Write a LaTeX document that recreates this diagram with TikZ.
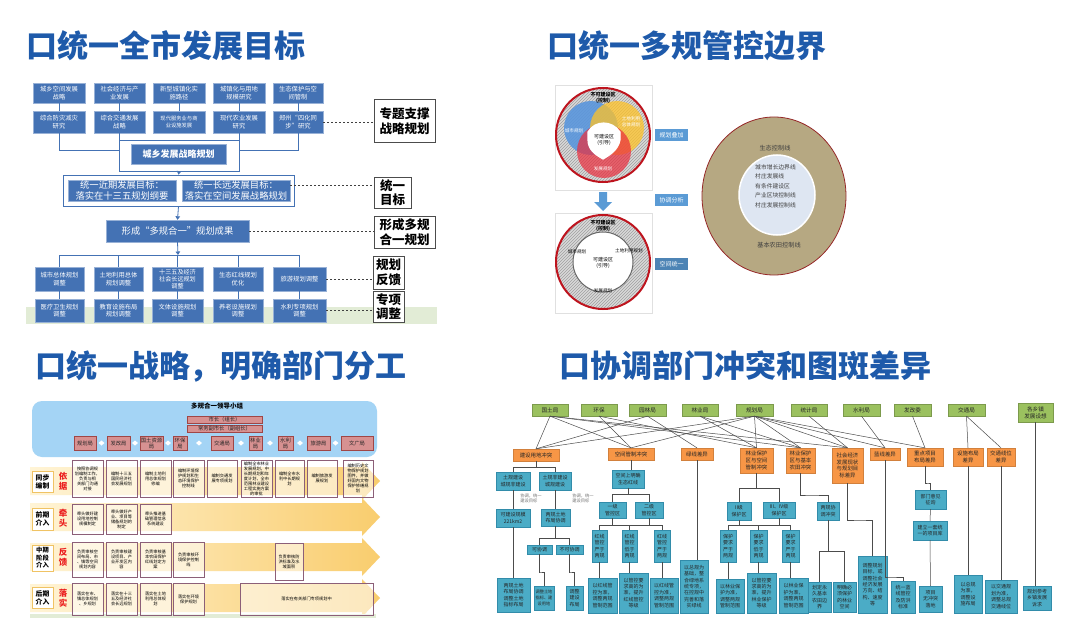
\documentclass[tikz,border=0pt]{standalone}
\usepackage{fontspec}
\setmainfont{Noto Sans CJK SC}
\usetikzlibrary{arrows.meta,patterns}
\definecolor{tblue}{RGB}{30,90,170}
\definecolor{qb}{RGB}{68,114,180}
\definecolor{gband}{RGB}{226,236,214}
\definecolor{ringred}{RGB}{190,20,30}
\definecolor{vblue}{RGB}{90,150,220}
\definecolor{vyel}{RGB}{255,195,40}
\definecolor{vred}{RGB}{235,45,60}
\definecolor{lblue}{RGB}{91,155,213}
\definecolor{tanc}{RGB}{182,168,130}
\definecolor{darkred}{RGB}{150,40,40}
\definecolor{inblue}{RGB}{222,230,242}
\definecolor{skyb}{RGB}{164,212,245}
\definecolor{salmon}{RGB}{215,145,145}
\definecolor{salbd}{RGB}{160,70,70}
\definecolor{bandL}{RGB}{255,244,214}
\definecolor{bandR}{RGB}{249,205,110}
\definecolor{taskbd}{RGB}{140,95,120}
\definecolor{lblbd}{RGB}{240,195,100}
\definecolor{redtxt}{RGB}{235,30,30}
\definecolor{gbox}{RGB}{155,193,95}
\definecolor{obox}{RGB}{247,150,70}
\definecolor{tbox}{RGB}{75,172,198}
\definecolor{tboxbd}{RGB}{50,140,170}
\newcommand\fs[2]{\fontsize{#1}{#2}\selectfont}
\newcommand\bx[7]{\node[#6,minimum width={(#4-#2)*1pt},minimum height={(#5-#3)*1pt}] (#1) at ({(#2+#4)/2},{(#3+#5)/2}) {#7};}
\newcommand\band[1]{\shade[left color=bandL,right color=bandR] (30,#1-14) -- (362,#1-14) -- (362,#1-19) -- (380,#1) -- (362,#1+19) -- (362,#1+14) -- (30,#1+14) -- cycle;}
\newcommand\brk[4]{\draw[qlink] (#1.south) -- ++(0,#4) coordinate (#1j); \draw[qlink] (#2.north) |- (#1j) -| (#3.north);}
\tikzset{
 title/.style={font=\fs{31}{34}\bfseries,text=tblue,inner sep=0},
 qbx/.style={fill=qb,draw=qb!55!white,text=white,align=center,inner sep=0,font=\fs{6.3}{7.6}},
 qol/.style={draw=qb,fill=white,line width=0.8pt,inner sep=0},
 qline/.style={draw=qb,line width=0.8pt},
 qarr/.style={qline,-{Triangle[width=4.5pt,length=3.5pt]}},
 qdash/.style={draw=black!75,line width=0.8pt,dash pattern=on 2.2pt off 1.8pt},
 lbl/.style={draw=black!70,line width=1pt,fill=white,align=center,inner sep=0,font=\fs{12.5}{14.5}\bfseries},
 bl/.style={fill=lblue,text=white,inner sep=0,font=\fs{6}{7}},
 tiny/.style={inner sep=0,align=center,font=\fs{4.6}{5.6}},
 sal/.style={fill=salmon,draw=salbd,line width=0.5pt,inner sep=0,align=center,font=\fs{5.3}{6},text=black!85},
 task/.style={fill=white,fill opacity=0.55,text opacity=1,draw=taskbd,line width=0.6pt,inner sep=0,align=center,font=\fs{4.2}{5}},
 rowl/.style={fill=white,draw=lblbd,line width=0.7pt,inner sep=0,align=center,font=\fs{6.8}{8}\bfseries},
 redl/.style={text=redtxt,inner sep=0,align=center,font=\fs{8.5}{10}\bfseries},
 gb/.style={fill=gbox,draw=gbox!80!black,line width=0.3pt,inner sep=0,align=center,font=\fs{5.6}{7},text=black!85},
 ob/.style={fill=obox,draw=obox!85!black,line width=0.3pt,inner sep=0,align=center,font=\fs{5.4}{6.8},text=black!85},
 tb/.style={fill=tbox,draw=tboxbd,line width=0.3pt,inner sep=0,align=center,font=\fs{5}{6.4},text=black!85},
 qlink/.style={draw=black!70,line width=0.5pt},
 note/.style={text=black!55,font=\fs{4.3}{5.2},align=left,inner sep=0}
}
\begin{document}
\begin{tikzpicture}[x=1pt,y=-1pt]
\useasboundingbox (0,0) rectangle (1080,618);
\fill[white] (0,0) rectangle (1080,618);
% ---------- titles
\node[title] (t1) at (166,46) {口统一全市发展目标};
\node[title] (t2) at (687,46) {口统一多规管控边界};
\node[title] (t3) at (221,366) {口统一战略，明确部门分工};
\node[title] (t4) at (745,366) {口协调部门冲突和图斑差异};
% ---------- Q1
\fill[gband] (26,307) rectangle (437,324);
\bx{a1}{33}{83}{85}{103}{qbx}{城乡空间发展\\战略}
\bx{a2}{94}{83}{145}{103}{qbx}{社会经济与产\\业发展}
\bx{a3}{153}{83}{205}{103}{qbx}{新型城镇化实\\施路径}
\bx{a4}{213}{83}{265}{103}{qbx}{城镇化与用地\\规模研究}
\bx{a5}{273}{83}{323}{103}{qbx}{生态保护与空\\间管制}
\bx{b1}{33}{111}{85}{133}{qbx}{综合防灾减灾\\研究}
\bx{b2}{94}{111}{145}{133}{qbx}{综合交通发展\\战略}
\bx{b3}{153}{111}{205}{133}{qbx,font=\fs{5.3}{6.8}}{现代服务业与商\\业设施发展}
\bx{b4}{213}{111}{265}{133}{qbx}{现代农业发展\\研究}
\bx{b5}{273}{111}{323}{133}{qbx}{郑州“四化同\\步”研究}
\foreach \i in {1,...,5} \draw[qline] (a\i.south) -- (b\i.north);
\bx{ob}{119}{140}{239}{171}{qol}{}
\bx{sb}{131}{144}{226}{164}{qbx,font=\fs{9}{10}\bfseries}{城乡发展战略规划}
\draw[qline] (b1.south) |- ([yshift=5pt]ob.west);
\draw[qline] (b5.south) |- ([yshift=5pt]ob.east);
\draw[qline] (b2.south) -- (b2.south |- ob.north);
\draw[qline] (b4.south) -- (b4.south |- ob.north);
\bx{ob2}{63}{175}{294}{206}{qol}{}
\draw[qarr] (ob.south) -- (ob2.north);
\bx{g1}{68}{180}{176}{201}{qbx,font=\fs{9.3}{10.3}}{统一近期发展目标：\\落实在十三五规划纲要}
\bx{g2}{182}{180}{290}{201}{qbx,font=\fs{9.3}{10.3}}{统一长远发展目标：\\落实在空间发展战略规划}
\bx{L1}{374}{100}{435}{142}{lbl}{专题支撑\\战略规划}
\bx{L2}{374}{177}{411}{208}{lbl}{统一\\目标}
\bx{L3}{374}{216}{435}{248}{lbl}{形成多规\\合一规划}
\bx{L4}{373}{256}{404}{289}{lbl}{规划\\反馈}
\bx{L5}{373}{291}{404}{322}{lbl}{专项\\调整}
\draw[qdash] (b5.east) -- (L1.west |- b5.east);
\coordinate (g2e) at ([yshift=5pt]g2.east);
\draw[qdash] (g2e) -- (L2.west |- g2e);
\bx{hb}{106}{220}{249}{242}{qbx,font=\fs{9.3}{10}}{形成“多规合一”规划成果}
\draw[qarr] (ob2.south) -- (hb.north);
\draw[qdash] (hb.east) -- (L3.west |- hb.east);
\bx{c1}{35}{267}{84}{291}{qbx}{城市总体规划\\调整}
\bx{c2}{94}{267}{143}{291}{qbx}{土地利用总体\\规划调整}
\bx{c3}{152}{267}{203}{291}{qbx,font=\fs{6.1}{7}}{十三五及经济\\社会长远规划\\调整}
\bx{c4}{213}{267}{263}{291}{qbx}{生态红线规划\\优化}
\bx{c5}{273}{267}{326}{291}{qbx}{旅游规划调整}
\bx{d1}{35}{299}{84}{322}{qbx}{医疗卫生规划\\调整}
\bx{d2}{94}{299}{143}{322}{qbx}{教育设施布局\\规划调整}
\bx{d3}{152}{299}{203}{322}{qbx}{文体设施规划\\调整}
\bx{d4}{213}{299}{263}{322}{qbx}{养老设施规划\\调整}
\bx{d5}{273}{299}{326}{322}{qbx}{水利专项规划\\调整}
\coordinate (hj) at (178,255);
\draw[qarr] (hb.south) -- (hj);
\draw[qline] (c1.north) |- (c5.north |- hj) -- (c5.north);
\foreach \i in {2,3,4} \draw[qline] (c\i.north) -- (c\i.north |- hj);
\foreach \i in {1,...,5} \draw[qline] (c\i.south) -- (d\i.north);
\draw[qdash] (c5.east) -- (L4.west |- c5.east);
\draw[qdash] (d5.east) -- (L5.west |- d5.east);
% ---------- Q2
\draw[black!12,fill=white] (555,85) rectangle (652,190);
\fill[gray!30] (603,135) circle (47pt);
\fill[pattern=north east lines,pattern color=gray!75] (603,135) circle (47pt);
\fill[vblue,opacity=.9] (591,128) circle (27pt);
\fill[vyel,opacity=.75] (617,128) circle (27pt);
\fill[vred,opacity=.7] (604,151) circle (27pt);
\draw[white,line width=1.2pt,fill=white] (588,132) .. controls (595,120) and (612,120) .. (620,132) -- (620,140) .. controls (618,150) and (610,155) .. (603,159) .. controls (596,155) and (588,150) .. (588,140) -- cycle;
\draw[ringred,line width=2pt] (603,135) circle (47pt);
\node[tiny,font=\fs{5}{6}\bfseries] (nk1) at (603,98) {不可建设区\\(控制)};
\node[tiny,text=white] (vb) at (574,131) {城市规划};
\node[tiny,text=white] (vy) at (631,122) {土地利用\\总体规划};
\node[tiny,text=white] (vr) at (603,169) {发展规划};
\node[tiny,font=\fs{5}{6.2}] (kj1) at (604,140) {可建设区\\(引导)};
\draw[fill=lblue,draw=none] (599,192) -- (607,192) -- (607,202) -- (612,202) -- (603,211) -- (594,202) -- (599,202) -- cycle;
\draw[black!12,fill=white] (555,213) rectangle (652,313);
\fill[gray!30] (603,262) circle (47pt);
\fill[pattern=north east lines,pattern color=gray!75] (603,262) circle (47pt);
\draw[black!60,line width=1pt,fill=white] (603,262) circle (30pt);
\draw[ringred,line width=2pt] (603,262) circle (47pt);
\node[tiny,font=\fs{5}{6}\bfseries] (nk2) at (603,226) {不可建设区\\(控制)};
\node[tiny] (cs2) at (577,252) {城市规划};
\node[tiny] (td2) at (629,251) {土地利用规划};
\node[tiny,font=\fs{5}{6.2}] (kj2) at (603,263) {可建设区\\(引导)};
\node[tiny] (fz2) at (603,291) {发展规划};
\bx{s1}{655}{129}{688}{141}{bl}{规划叠加}
\bx{s2}{655}{194}{688}{206}{bl}{协调分析}
\bx{s3}{655}{258}{688}{270}{bl,fill=lblue!85!black}{空间统一}
\draw[darkred,fill=tanc,line width=0.8pt] (774,196) ellipse (72pt and 79pt);
\draw[white,fill=inblue,line width=1.5pt] (777,195) ellipse (38pt and 40pt);
\node[inner sep=0,font=\fs{6.2}{7},text=black!75] (st) at (775,148) {生态控制线};
\node[inner sep=0,align=left,anchor=north west,font=\fs{5.8}{9.6},text=black!75] (ls) at (755,164) {城市增长边界线\\村庄发展线\\有条件建设区\\产业区块控制线\\村庄发展控制线};
\node[inner sep=0,font=\fs{6.2}{7},text=black!75] (jb) at (779,245) {基本农田控制线};
% ---------- Q3
\bx{lg}{32}{401}{377}{457}{fill=skyb,rounded corners=10pt}{}
\node[font=\fs{6.5}{7}\bfseries,inner sep=0] (lgt) at (217,406) {多规合一领导小组};
\bx{m1}{187}{416}{262}{423}{sal}{市长（组长）}
\bx{m2}{187}{425}{262}{432}{sal}{常务副市长（副组长）}
\bx{p1}{74}{436}{96}{450}{sal}{规划局}
\bx{p2}{107}{436}{130}{450}{sal}{发改局}
\bx{p3}{140}{436}{163}{450}{sal}{国土资源\\局}
\bx{p4}{173}{436}{187}{450}{sal}{环保\\局}
\bx{p5}{211}{436}{233}{450}{sal}{交通局}
\bx{p6}{249}{436}{262}{450}{sal}{林业\\局}
\bx{p7}{278}{436}{293}{450}{sal}{水利\\局}
\bx{p8}{307}{436}{330}{450}{sal}{旅游局}
\bx{p9}{341}{436}{373}{450}{sal}{文广局}
\foreach \x in {101.5,135,168,199,241,270,300,335.5} \fill[white] (\x-3,443) -- (\x,440.5) -- (\x+3,443) -- (\x,445.5) -- cycle;
\band{481}\band{517}\band{557}\band{598}
\fill[gband] (30,614) rectangle (376,618);
\bx{r1}{32}{471}{53}{492}{rowl}{同步\\编制}
\node[redl] (q1) at (63,481) {依\\据};
\bx{r2}{32}{508}{53}{530}{rowl}{前期\\介入}
\node[redl] (q2) at (63,518) {牵\\头};
\bx{r3}{32}{545}{53}{571}{rowl,font=\fs{6.3}{7.6}\bfseries}{中期\\阶段\\介入}
\node[redl] (q3) at (63,557) {反\\馈};
\bx{r4}{32}{587}{53}{608}{rowl}{后期\\介入}
\node[redl] (q4) at (63,598) {落\\实};
\bx{w11}{72}{460}{103}{497}{task}{按照协调规\\划编制工作，\\负责与相\\关部门沟通\\对接}
\bx{w12}{106}{460}{137}{497}{task}{编制十三五\\国民经济社\\会发展规划}
\bx{w13}{140}{460}{171}{497}{task}{编制土地利\\用总体规划\\修编}
\bx{w14}{173}{460}{204}{497}{task}{编制环境保\\护规划和生\\态环境保护\\控制线}
\bx{w15}{207}{460}{237}{497}{task}{编制交通发\\展专项规划}
\bx{w16}{241}{460}{272}{497}{task}{编制全市林业\\发展规划，中\\长期规划和年\\度计划，全市\\范围林业建设\\工程实施方案\\的审批}
\bx{w17}{275}{460}{304}{497}{task}{编制全市水\\利中长期规\\划}
\bx{w18}{307}{460}{337}{497}{task}{编制旅游发\\展规划}
\bx{w19}{343}{460}{373}{497}{task}{编制历史文\\物保护规划\\图件，并做\\好国内文物\\保护修缮规\\划}
\bx{w21}{72}{504}{103}{534}{task}{牵头做好建\\设用地控制\\规模制定}
\bx{w22}{106}{504}{137}{534}{task}{牵头做好产\\业、项目等\\储备规划的\\制定}
\bx{w23}{140}{504}{171}{534}{task}{牵头推进基\\础管理信息\\系统建设}
\bx{w31}{72}{542}{103}{577}{task}{负责审核空\\间布局、市\\、镇等空间\\规划内容}
\bx{w32}{106}{542}{137}{577}{task}{负责审核建\\设项目、产\\业开发区内\\容}
\bx{w33}{140}{542}{171}{577}{task}{负责审核基\\本农田保护\\红线划定方\\案}
\bx{w34}{173}{542}{204}{577}{task}{负责审核环\\境保护控制\\线}
\bx{w35}{275}{543}{303}{580}{task}{负责审核防\\洪标准及水\\域面积}
\bx{w41}{72}{583}{103}{615}{task}{落实在市、\\镇总体规划\\、乡规划}
\bx{w42}{106}{583}{137}{615}{task}{落实在十三\\五及经济社\\会长远规划}
\bx{w43}{140}{583}{171}{615}{task}{落实在土地\\利用总体规\\划}
\bx{w44}{173}{583}{204}{615}{task}{落实在环境\\保护规划}
\bx{w45}{240}{583}{373}{615}{task}{落实在有关部门专项规划中}
% ---------- Q4
\bx{gA}{532}{404}{568}{416}{gb}{国土局}
\bx{gB}{581}{404}{617}{416}{gb}{环保}
\bx{gC}{629}{404}{666}{416}{gb}{园林局}
\bx{gD}{682}{404}{718}{416}{gb}{林业局}
\bx{gE}{736}{404}{773}{416}{gb}{规划局}
\bx{gF}{791}{404}{827}{416}{gb}{统计局}
\bx{gG}{843}{404}{880}{416}{gb}{水利局}
\bx{gH}{894}{404}{931}{416}{gb}{发改委}
\bx{gI}{948}{404}{985}{416}{gb}{交通局}
\bx{gK}{1018}{403}{1053}{422}{gb}{各乡镇\\发展设想}
\bx{oA}{513}{449}{559}{461}{ob}{建设用地冲突}
\bx{oB}{608}{448}{654}{460}{ob}{空间管制冲突}
\bx{oC}{681}{448}{713}{460}{ob}{绿线差异}
\bx{oD}{740}{448}{773}{473}{ob}{林业保护\\区与空间\\管制冲突}
\bx{oE}{786}{448}{815}{473}{ob}{林业保护\\区与基本\\农田冲突}
\bx{oF}{832}{448}{863}{483}{ob}{社会经济\\发展现状\\与规划目\\标差异}
\bx{oG}{870}{448}{900}{460}{ob}{蓝线差异}
\bx{oH}{907}{448}{943}{466}{ob}{重点项目\\布局差异}
\bx{oI}{953}{448}{983}{466}{ob}{设施布局\\差异}
\bx{oJ}{987}{448}{1015}{466}{ob}{交通线位\\差异}
\foreach \a/\b in {gA/oA,gA/oB,gA/oE,gA/oF,gB/oB,gB/oD,gC/oC,gC/oA,gD/oD,gD/oE,gE/oA,gE/oB,gE/oD,gE/oE,gE/oF,gE/oG,gE/oH,gF/oF,gG/oG,gH/oH,gI/oI,gI/oJ}
  \draw[qlink] (\a.south) -- (\b.north);
% column A
\bx{tA1}{496}{472}{530}{490}{tb}{土规建设\\城规非建设}
\bx{tA2}{539}{472}{571}{490}{tb}{土规非建设\\城规建设}
\bx{tA3}{496}{509}{530}{527}{tb}{可建设规模\\221km2}
\bx{tA4}{541}{509}{570}{526}{tb}{两规土地\\布局协调}
\bx{tA5}{527}{545}{552}{554}{tb}{可协调}
\bx{tA6}{556}{545}{583}{554}{tb}{不可协调}
\bx{tA7}{534}{586}{554}{610}{tb,font=\fs{4.2}{5.6}}{调整土地\\指标、建\\设用地}
\bx{tA8}{566}{586}{583}{610}{tb}{调整\\建设\\布局}
\bx{tA9}{497}{578}{530}{612}{tb}{两规土地\\布局协调\\调整土地\\指标布局}
\node[note] (nA1) at (531,498) {协调，统一\\建设目标};
\node[note] (nA2) at (583,498) {协调，统一\\建设目标};
\brk{oA}{tA1}{tA2}{6}
\draw[qlink] (tA1.south) -- (tA3.north);
\draw[qlink] (tA2.south) -- (tA2.south |- tA4.north);
\brk{tA4}{tA5}{tA6}{12}
\coordinate (a7) at (540,572);
\coordinate (a8) at (570,572);
\draw[qlink] (tA5.south) |- (a7) -| (tA7.north);
\draw[qlink] (tA6.south) |- (a8) -| (tA8.north);
\draw[qlink] (tA3.south) -- (tA3.south |- tA9.north);
% column B
\bx{tB1}{612}{470}{644}{488}{tb}{空间上明确\\生态红线}
\bx{tB2}{599}{502}{626}{518}{tb}{一级\\管控区}
\bx{tB3}{635}{502}{663}{518}{tb}{二级\\管控区}
\bx{tB4}{592}{530}{607}{562}{tb}{红线\\管控\\严于\\两规}
\bx{tB5}{622}{530}{637}{562}{tb}{红线\\管控\\低于\\两规}
\bx{tB6}{654}{530}{670}{562}{tb}{红线\\管控\\严于\\两规}
\bx{tB7}{588}{578}{617}{613}{tb}{以红线管\\控为准，\\调整两规\\管制范围}
\bx{tB8}{619}{573}{648}{613}{tb}{以管控要\\求高的为\\准，提升\\红线管控\\等级}
\bx{tB9}{650}{578}{678}{613}{tb}{以红线管\\控为准，\\调整两规\\管制范围}
\draw[qlink] (oB.south) -- (oB.south |- tB1.north);
\brk{tB1}{tB2}{tB3}{6}
\coordinate (yB) at (600,525);
\draw[qlink] (tB4.north) |- (tB6.north |- yB) -- (tB6.north);
\draw[qlink] (tB5.north) -- (tB5.north |- yB);
\draw[qlink] (tB2.south) -- (tB2.south |- yB);
\draw[qlink] (tB3.south) -- (tB3.south |- yB);
\draw[qlink] (tB4.south) -- (tB4.south |- tB7.north);
\draw[qlink] (tB5.south) -- (tB5.south |- tB8.north);
\draw[qlink] (tB6.south) -- (tB6.south |- tB9.north);
% column C
\bx{tC}{680}{560}{708}{613}{tb}{以总规为\\基础，整\\合绿地系\\统专项，\\在控规中\\完善和落\\实绿线}
\draw[qlink] (oC.south) -- (oC.south |- tC.north);
% column D
\bx{tD1}{727}{502}{751}{520}{tb}{II级\\保护区}
\bx{tD2}{763}{502}{795}{518}{tb}{III、IV级\\保护区}
\bx{tD3}{720}{530}{736}{562}{tb}{保护\\要求\\严于\\两规}
\bx{tD4}{750}{530}{767}{562}{tb}{保护\\要求\\低于\\两规}
\bx{tD5}{782}{530}{799}{562}{tb}{保护\\要求\\严于\\两规}
\bx{tD6}{716}{579}{744}{613}{tb}{以林业保\\护为准，\\调整两规\\管制范围}
\bx{tD7}{747}{573}{776}{613}{tb}{以管控要\\求高的为\\准，提升\\林业保护\\等级}
\bx{tD8}{779}{578}{808}{613}{tb}{以林业保\\护为准，\\调整两规\\管制范围}
\brk{oD}{tD1}{tD2}{15}
\coordinate (yD) at (730,525);
\draw[qlink] (tD3.north) |- (tD5.north |- yD) -- (tD5.north);
\draw[qlink] (tD4.north) -- (tD4.north |- yD);
\draw[qlink] (tD1.south) -- (tD1.south |- yD);
\draw[qlink] (tD2.south) -- (tD2.south |- yD);
\draw[qlink] (tD3.south) -- (tD3.south |- tD6.north);
\draw[qlink] (tD4.south) -- (tD4.south |- tD7.north);
\draw[qlink] (tD5.south) -- (tD5.south |- tD8.north);
% column E
\bx{tE1}{817}{502}{839}{520}{tb}{两规协\\调冲突}
\bx{tE2}{808}{582}{831}{612}{tb}{划定永\\久基本\\农田边\\界}
\bx{tE3}{833}{582}{856}{612}{tb}{明确必\\须保护\\的林业\\空间}
\coordinate (eJ) at (810,495);
\draw[qlink] (oE.south) |- (eJ) -| (tE1.north);
\brk{tE1}{tE2}{tE3}{31}
% column F
\bx{tF}{858}{556}{887}{613}{tb}{调整规划\\目标，或\\调整社会\\经济发展\\方向、结\\构、速度\\等}
\coordinate (fJ) at (860,520);
\draw[qlink] (oF.south) |- (fJ) -| (tF.north);
% column G
\bx{tG}{891}{581}{915}{613}{tb}{统一蓝\\线管控\\及防洪\\标准}
\coordinate (gJ) at (890,577);
\draw[qlink] (oG.south) |- (gJ) -| (tG.north);
% column H
\bx{tH1}{915}{490}{946}{509}{tb}{部门意见\\征询}
\bx{tH2}{913}{521}{947}{540}{tb}{建立一套统\\一的项目库}
\bx{tH3}{919}{586}{942}{612}{tb}{项目\\无冲突\\落地}
\coordinate (hJ) at (928,483);
\draw[qlink] (oH.south) |- (hJ) -| (tH1.north);
\draw[qlink] (tH1.south) -- (tH2.north);
\draw[qlink] (tH2.south) -- (tH3.north);
% columns I J K
\bx{tI}{954}{575}{982}{613}{tb}{以总规\\为准，\\调整设\\施布局}
\bx{tJ}{985}{580}{1017}{613}{tb}{以交通规\\划为准，\\调整总规\\交通线位}
\bx{tK}{1023}{586}{1051}{610}{tb}{规划参考\\乡镇发展\\诉求}
\draw[qlink] (oI.south) -- (oI.south |- tI.north);
\draw[qlink] (oJ.south) -- (oJ.south |- tJ.north);
\draw[qlink] (gK.south) -- (gK.south |- tK.north);
\end{tikzpicture}
\end{document}
